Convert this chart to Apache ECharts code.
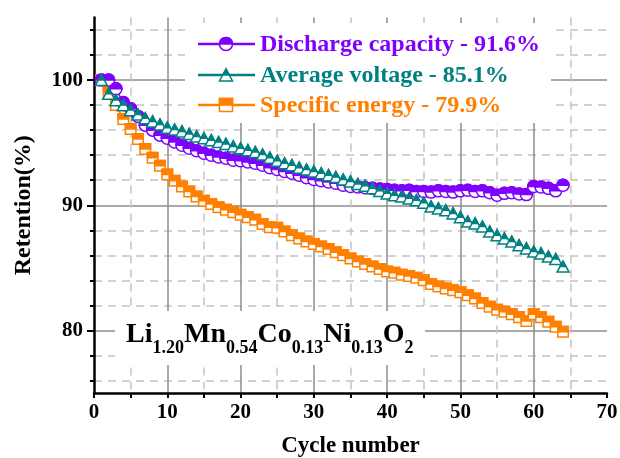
<!DOCTYPE html>
<html>
<head>
<meta charset="utf-8">
<script src="https://cdn.jsdelivr.net/npm/echarts@6/dist/echarts.min.js"></script>
<style>html,body{margin:0;padding:0;background:#fff}#chart{width:620px;height:458px}</style>
</head>
<body>
<div id="chart"></div>
<script>
// cycle numbers and retention (%)
const cycles = [1, 2, 3, 4, 5, 6, 7, 8, 9, 10, 11, 12, 13, 14, 15, 16, 17, 18, 19, 20,
  21, 22, 23, 24, 25, 26, 27, 28, 29, 30, 31, 32, 33, 34, 35, 36, 37, 38, 39, 40,
  41, 42, 43, 44, 45, 46, 47, 48, 49, 50, 51, 52, 53, 54, 55, 56, 57, 58, 59, 60,
  61, 62, 63, 64];
const discharge = [100.0, 100.0, 99.3, 98.2, 97.7, 97.1, 96.4, 96.0, 95.6, 95.35,
  95.05, 94.8, 94.55, 94.35, 94.15, 94.0, 93.85, 93.75, 93.6, 93.55,
  93.45, 93.35, 93.2, 93.0, 92.85, 92.7, 92.55, 92.4, 92.2, 92.05,
  91.95, 91.85, 91.75, 91.6, 91.5, 91.45, 91.4, 91.35, 91.3, 91.25,
  91.2, 91.15, 91.2, 91.1, 91.1, 91.05, 91.15, 91.1, 91.05, 91.15,
  91.2, 91.1, 91.15, 91.0, 90.8, 90.95, 91.0, 90.9, 90.85, 91.5,
  91.45, 91.35, 91.15, 91.6];
const voltage = [100.0, 98.9, 98.4, 98.0, 97.6, 97.25, 96.95, 96.7, 96.45, 96.2,
  96.05, 95.9, 95.7, 95.5, 95.35, 95.2, 95.05, 94.9, 94.7, 94.55,
  94.4, 94.25, 94.05, 93.8, 93.55, 93.35, 93.2, 93.0, 92.85, 92.7,
  92.55, 92.4, 92.25, 92.05, 91.9, 91.7, 91.55, 91.35, 91.15, 90.95,
  90.8, 90.7, 90.55, 90.4, 90.2, 89.9, 89.75, 89.6, 89.35, 89.05,
  88.7, 88.55, 88.3, 87.9, 87.6, 87.35, 87.1, 86.8, 86.55, 86.3,
  86.15, 85.9, 85.7, 85.1];
const energy = [100.0, 99.0, 98.0, 96.9, 96.1, 95.3, 94.5, 93.8, 93.15, 92.45,
  91.95, 91.5, 91.1, 90.7, 90.35, 90.1, 89.85, 89.65, 89.45, 89.25,
  89.05, 88.85, 88.5, 88.25, 88.2, 87.9, 87.6, 87.35, 87.1, 86.9,
  86.7, 86.5, 86.25, 86.0, 85.75, 85.5, 85.3, 85.1, 84.9, 84.7,
  84.6, 84.45, 84.35, 84.2, 84.0, 83.7, 83.5, 83.35, 83.2, 83.05,
  82.8, 82.55, 82.2, 81.9, 81.65, 81.5, 81.3, 81.05, 80.75, 81.3,
  81.05, 80.7, 80.3, 79.9];
const yMajor = [80, 90, 100];
const yMinor = [76, 78, 82, 84, 86, 88, 92, 94, 96, 98, 102, 104];
const legendNames = ['Discharge capacity - 91.6%', 'Average voltage - 85.1%', 'Specific energy - 79.9%'];

const FONT = '"Liberation Serif", "Times New Roman", serif';
const violet = '#8000ff', cyan = '#008080', orange = '#ff8000';

function pairs(vals) {
  return cycles.map((c, i) => [c, vals[i]]);
}

// half filled symbol (top half solid, bottom half white) like Origin's "half up"
function markerEls(shape, color, x, y, s) {
  const hollow = { fill: '#fff', stroke: color, lineWidth: 1.5 };
  const solid = { fill: color, stroke: color, lineWidth: 1.5 };
  if (shape === 'circle') {
    return [
      { type: 'circle', shape: { cx: x, cy: y, r: s / 2 }, style: hollow },
      { type: 'sector', shape: { cx: x, cy: y, r0: 0, r: s / 2, startAngle: Math.PI, endAngle: Math.PI * 2 }, style: solid }
    ];
  }
  if (shape === 'triangle') {
    const h = s * 0.92;
    return [
      { type: 'polygon', shape: { points: [[x, y - h / 2], [x - s / 2, y + h / 2], [x + s / 2, y + h / 2]] }, style: hollow },
      { type: 'polygon', shape: { points: [[x, y - h / 2], [x - s / 4, y], [x + s / 4, y]] }, style: solid }
    ];
  }
  return [
    { type: 'rect', shape: { x: x - s / 2, y: y - s / 2, width: s, height: s }, style: hollow },
    { type: 'rect', shape: { x: x - s / 2, y: y - s / 2, width: s, height: s / 2 }, style: solid }
  ];
}

function markerSeries(vals, shape, color, size) {
  return {
    type: 'custom',
    data: pairs(vals),
    encode: { x: 0, y: 1 },
    z: 3,
    renderItem: function (params, api) {
      const p = api.coord([api.value(0), api.value(1)]);
      return { type: 'group', children: markerEls(shape, color, p[0], p[1], size) };
    }
  };
}

function lineSeries(vals, color) {
  return {
    type: 'line', data: pairs(vals), symbol: 'none', z: 2,
    lineStyle: { color: color, width: 1.5 }
  };
}

// legend drawn by hand, on a white box
const rows = [
  { shape: 'circle', color: violet, y: 44 },
  { shape: 'triangle', color: cyan, y: 75 },
  { shape: 'square', color: orange, y: 105 }
];
const legendEls = [{ type: 'rect', shape: { x: 185, y: 23, width: 366, height: 100 }, style: { fill: '#fff' }, z: 100 }];
rows.forEach(function (r, i) {
  legendEls.push({ type: 'line', shape: { x1: 198, y1: r.y, x2: 255, y2: r.y }, style: { stroke: r.color, lineWidth: 2.5 }, z: 101 });
  markerEls(r.shape, r.color, 226, r.y, 13).forEach(function (el) { el.z = 102; legendEls.push(el); });
  legendEls.push({
    type: 'text', x: 260, y: r.y + 1, z: 102,
    style: { text: legendNames[i], fill: r.color, font: 'bold 24px ' + FONT, verticalAlign: 'middle' }
  });
});

const chart = echarts.init(document.getElementById('chart'));
chart.setOption({
  animation: false,
  backgroundColor: '#fff',
  grid: { left: 94, right: 13, top: 17.5, bottom: 65, outerBoundsMode: 'none' },
  xAxis: {
    type: 'value', min: 0, max: 70, interval: 10,
    name: 'Cycle number', nameLocation: 'middle', nameGap: 42,
    nameTextStyle: { fontFamily: FONT, fontWeight: 'bold', fontSize: 23, color: '#000' },
    axisLine: { onZero: false, lineStyle: { color: '#000', width: 2.5 } },
    axisTick: { length: 5, lineStyle: { color: '#000', width: 2 } },
    minorTick: { show: true, splitNumber: 2, length: 5, lineStyle: { color: '#000', width: 2 } },
    axisLabel: { margin: 9, fontFamily: FONT, fontWeight: 'bold', fontSize: 21, color: '#000' },
    splitLine: { show: true, showMinLine: false, showMaxLine: false, lineStyle: { color: '#8c8c8c', width: 1.5 } },
    minorSplitLine: { show: true, lineStyle: { color: '#c4c4c4', width: 1.5, type: [8, 6] } }
  },
  yAxis: [{
    type: 'value', min: 75, max: 105, position: 'left',
    name: 'Retention(%)', nameLocation: 'middle', nameGap: 58,
    nameTextStyle: { fontFamily: FONT, fontWeight: 'bold', fontSize: 24, color: '#000' },
    axisLine: { show: true, onZero: false, lineStyle: { color: '#000', width: 2.5 } },
    axisTick: { customValues: yMajor, length: 7, lineStyle: { color: '#000', width: 2 } },
    axisLabel: { customValues: yMajor, margin: 11, fontFamily: FONT, fontWeight: 'bold', fontSize: 21, color: '#000' },
    splitLine: { show: true, lineStyle: { color: '#8c8c8c', width: 1.5 } }
  }, {
    type: 'value', min: 75, max: 105, position: 'left',
    axisLine: { show: false, onZero: false },
    axisTick: { customValues: yMinor, length: 4, lineStyle: { color: '#000', width: 2 } },
    axisLabel: { show: false },
    splitLine: { show: true, lineStyle: { color: '#c4c4c4', width: 1.5, type: [8, 6] } }
  }],
  series: [
    lineSeries(energy, orange),
    lineSeries(discharge, violet),
    lineSeries(voltage, cyan),
    markerSeries(energy, 'square', orange, 10.5),
    markerSeries(discharge, 'circle', violet, 12),
    markerSeries(voltage, 'triangle', cyan, 12)
  ],
  graphic: legendEls.concat([
    { type: 'rect', shape: { x: 115, y: 311, width: 310, height: 54 }, style: { fill: '#fff' }, z: 100 },
    {
      type: 'text', x: 126, y: 357, z: 101,
      style: {
        text: '{m|Li}{s|1.20}{m|Mn}{s|0.54}{m|Co}{s|0.13}{m|Ni}{s|0.13}{m|O}{s|2}',
        verticalAlign: 'bottom',
        rich: {
          m: { fontFamily: FONT, fontWeight: 'bold', fontSize: 28, fill: '#000', verticalAlign: 'bottom', padding: [0, 0, 8, 0] },
          s: { fontFamily: FONT, fontWeight: 'bold', fontSize: 18, fill: '#000', verticalAlign: 'bottom' }
        }
      }
    }
  ])
});
</script>
</body>
</html>
